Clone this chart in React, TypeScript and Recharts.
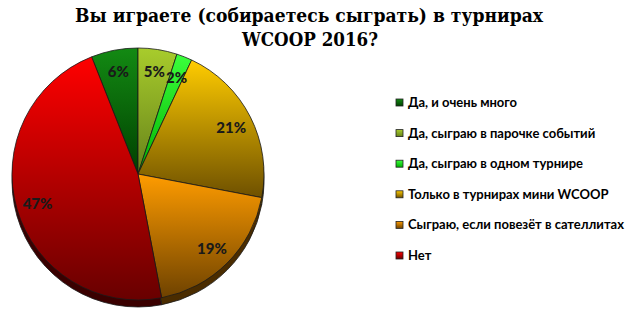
import React from 'react';
import { PieChart, Pie, Cell } from 'recharts';

const categories = [
  'Да, и очень много',
  'Да, сыграю в парочке событий',
  'Да, сыграю в одном турнире',
  'Только в турнирах мини WCOOP',
  'Сыграю, если повезёт в сателлитах',
  'Нет',
];
const values = [6, 5, 2, 21, 19, 47];
const titleLines = ['Вы играете (собираетесь сыграть) в турнирах', 'WCOOP 2016?'];

const topColors = ['#138a13', '#a8cc2c', '#3cff3c', '#ffcc00', '#ff9c00', '#ff0000'];
const bottomColors = ['#004000', '#66821a', '#00b000', '#6e5000', '#6e4200', '#680000'];
const rimColors = ['#002a00', '#3e4f10', '#007000', '#4a3600', '#4a2c00', '#3a0000'];

const data = categories.map((name, i) => ({ name, value: values[i] }));

const RAD = Math.PI / 180;
const START = 90 + (values[0] / 100) * 360;

const renderLabel = (props: any) => {
  const { cx, cy, midAngle, outerRadius, value } = props;
  const r = outerRadius * 0.83;
  const x = cx + r * Math.cos(-midAngle * RAD);
  const y = cy + r * Math.sin(-midAngle * RAD);
  return (
    <text x={x} y={y} fill="#1a1a1a" textAnchor="middle" dominantBaseline="central"
      style={{ fontFamily: 'Lato, "Open Sans", sans-serif', fontWeight: 900, fontSize: 15 }}>
      {`${value}%`}
    </text>
  );
};

function LegendBox() {
  return (
    <svg width={240} height={180} style={{ position: 'absolute', left: 395, top: 95 }}>
      <defs>
        {categories.map((c, i) => (
          <linearGradient key={`l${i}`} id={`lg${i}`} x1="0" y1="0" x2="0" y2="1">
            <stop offset="0%" stopColor={topColors[i]} />
            <stop offset="100%" stopColor={bottomColors[i]} />
          </linearGradient>
        ))}
      </defs>
      {categories.map((c, i) => (
        <g key={c} transform={`translate(0, ${i * 30.6})`}>
          <rect x={1} y={4} width={7} height={7} fill={`url(#lg${i})`} stroke="#222" strokeWidth={0.8} />
          <text x={13} y={12} fill="#000"
            style={{ fontFamily: 'Lato, "Open Sans", sans-serif', fontWeight: 700, fontSize: 13 }}>
            {c}
          </text>
        </g>
      ))}
    </svg>
  );
}

export default function App() {
  return (
    <div style={{ position: 'absolute', left: 0, top: 0, width: 638, height: 317, background: '#fff' }}>
      <svg width={638} height={60} style={{ position: 'absolute', left: 0, top: 0 }}>
        <text x={309} y={22} textAnchor="middle" textLength={468} lengthAdjust="spacingAndGlyphs" fill="#000"
          style={{ fontFamily: '"DejaVu Serif", serif', fontWeight: 700, fontSize: 19 }}>
          {titleLines[0]}
        </text>
        <text x={310} y={46} textAnchor="middle" textLength={136} lengthAdjust="spacingAndGlyphs" fill="#000"
          style={{ fontFamily: '"DejaVu Serif", serif', fontWeight: 700, fontSize: 19 }}>
          {titleLines[1]}
        </text>
      </svg>
      <div style={{ position: 'absolute', left: 0, top: 0 }}>
        <PieChart width={638} height={317} margin={{ top: 0, right: 0, bottom: 0, left: 0 }}>
          <defs>
            {categories.map((c, i) => (
              <linearGradient key={`g${i}`} id={`pg${i}`} x1="0" y1="0" x2="0" y2="1">
                <stop offset="0%" stopColor={topColors[i]} />
                <stop offset="100%" stopColor={bottomColors[i]} />
              </linearGradient>
            ))}
          </defs>
          <Pie data={data} dataKey="value" cx={138} cy={181} outerRadius={126}
            startAngle={START} endAngle={START - 360} isAnimationActive={false}
            stroke="#1a1a1a" strokeWidth={0.8}>
            {data.map((d, i) => (
              <Cell key={`r${i}`} fill={rimColors[i]} />
            ))}
          </Pie>
          <Pie data={data} dataKey="value" cx={138} cy={174} outerRadius={126}
            startAngle={START} endAngle={START - 360} isAnimationActive={false}
            stroke="#1a1a1a" strokeWidth={0.8} label={renderLabel} labelLine={false}>
            {data.map((d, i) => (
              <Cell key={`c${i}`} fill={`url(#pg${i})`} />
            ))}
          </Pie>
        </PieChart>
      </div>
      <LegendBox />
    </div>
  );
}
